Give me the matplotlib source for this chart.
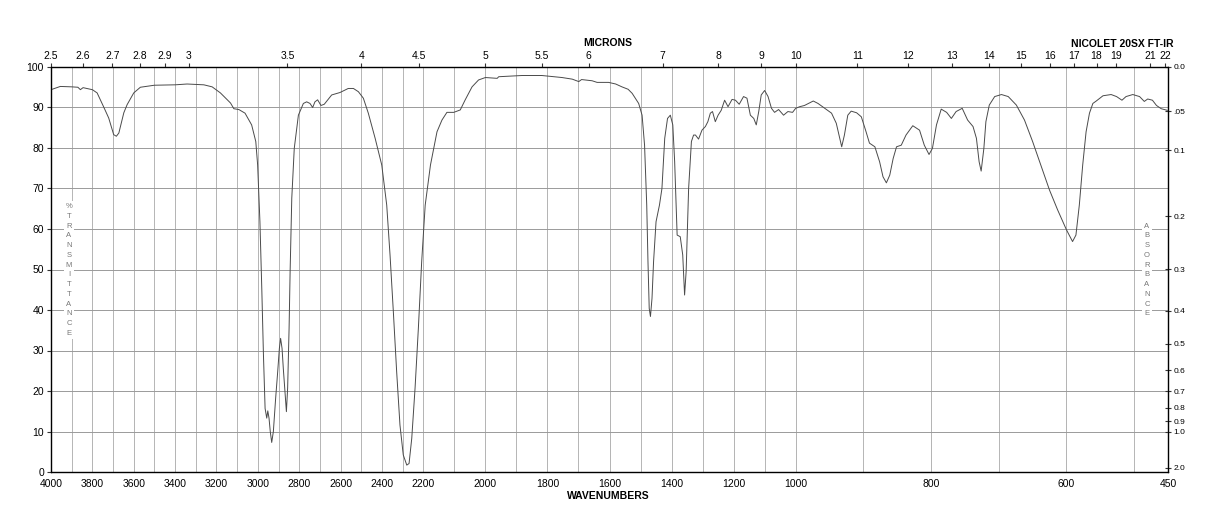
import numpy as np
import matplotlib
matplotlib.use("Agg")
import matplotlib.pyplot as plt

plt.rcParams['font.family'] = ['Liberation Sans', 'DejaVu Sans']

# spectrum (wavenumber cm-1, % transmittance)
wavenumber = [4000, 3955, 3900, 3870, 3858, 3845, 3800, 3777, 3745, 3721, 3697, 3684, 3672,
              3648, 3632, 3600, 3568, 3500, 3400, 3342, 3261, 3221, 3181, 3132, 3116, 3092,
              3062, 3030, 3010, 3001, 2990, 2981, 2973, 2965, 2957, 2952, 2946, 2940, 2933,
              2925, 2914, 2904, 2896, 2890, 2883, 2877, 2869, 2862, 2856, 2849, 2844, 2836,
              2824, 2804, 2780, 2764, 2748, 2735, 2724, 2711, 2695, 2679, 2643, 2603, 2563,
              2538, 2514, 2490, 2466, 2433, 2401, 2377, 2361, 2345, 2329, 2313, 2297, 2280,
              2269, 2256, 2240, 2224, 2208, 2194, 2177, 2156, 2140, 2124, 2102, 2081, 2065,
              2043, 2022, 2000, 1962, 1957, 1882, 1818, 1753, 1720, 1699, 1690, 1656, 1640,
              1603, 1580, 1560, 1540, 1527, 1506, 1495, 1487, 1480, 1476, 1472, 1468, 1463,
              1458, 1450, 1439, 1431, 1422, 1413, 1404, 1396, 1390, 1382, 1372, 1364, 1358,
              1353, 1345, 1336, 1329, 1323, 1313, 1302, 1291, 1283, 1275, 1268, 1259, 1250,
              1240, 1229, 1218, 1205, 1194, 1182, 1168, 1157, 1146, 1135, 1127, 1119, 1111,
              1100, 1089, 1078, 1068, 1055, 1039, 1025, 1010, 1000, 994, 987, 974, 967, 957,
              947, 940, 935, 932, 928, 923, 918, 910, 903, 896, 891, 883, 876, 871, 866, 861,
              856, 851, 844, 837, 827, 817, 810, 803, 798, 792, 785, 777, 770, 763, 754, 746,
              738, 733, 729, 726, 722, 719, 714, 706, 696, 686, 674, 662, 650, 637, 625, 613,
              600, 591, 586, 581, 576, 571, 566, 561, 556, 546, 534, 526, 518, 512, 502, 492,
              485, 480, 473, 467, 460, 451]
transmittance = [94.4, 95.2, 95.1, 95.0, 94.4, 94.9, 94.4, 93.6, 90.1, 87.4, 83.3, 82.9, 83.7,
                 88.7, 90.7, 93.6, 95.0, 95.5, 95.6, 95.8, 95.6, 95.1, 93.6, 91.1, 89.7, 89.5,
                 88.6, 85.7, 81.6, 75.8, 61.8, 45.3, 29.0, 15.7, 13.3, 15.1, 13.3, 10.0, 7.3,
                 10.0, 18.2, 24.8, 30.5, 33.0, 30.5, 25.6, 19.8, 14.9, 20.7, 35.5, 49.5, 67.6,
                 79.9, 88.1, 91.0, 91.4, 91.0, 90.0, 91.4, 91.9, 90.5, 90.8, 93.1, 93.7, 94.7,
                 94.7, 93.9, 92.3, 88.6, 82.4, 75.8, 65.9, 53.6, 39.6, 24.8, 11.6, 4.2, 1.7,
                 2.1, 8.3, 20.7, 35.5, 51.9, 65.9, 75.8, 84.0, 86.9, 88.8, 88.8, 89.4, 91.9,
                 95.1, 96.8, 97.4, 97.2, 97.6, 97.9, 97.9, 97.4, 97.0, 96.4, 96.9, 96.6, 96.2,
                 96.2, 95.8, 95.1, 94.5, 93.5, 91.0, 88.1, 80.7, 65.9, 51.9, 40.4, 38.4, 42.9,
                 51.9, 61.8, 65.9, 70.0, 82.4, 87.3, 88.1, 85.7, 76.6, 58.5, 58.1, 53.6, 43.7,
                 49.5, 70.0, 81.6, 83.2, 83.2, 82.2, 84.4, 85.3, 86.5, 88.6, 89.0, 86.5, 88.1,
                 89.3, 91.8, 90.2, 92.0, 91.8, 90.8, 92.7, 92.3, 88.1, 87.3, 85.7, 89.0, 93.1,
                 94.2, 92.7, 89.8, 88.8, 89.5, 88.1, 89.0, 88.8, 89.8, 90.2, 90.5, 91.6, 91.0, 89.8,
                 88.6, 86.1, 82.4, 80.3, 83.2, 88.1, 89.1, 88.7, 87.7, 84.0, 81.2, 80.3, 76.6,
                 72.9, 71.4, 73.3, 77.4, 80.3, 80.7, 83.2, 85.5, 84.4, 80.7, 78.4, 79.9, 85.7,
                 89.6, 88.8, 87.3, 89.0, 89.8, 86.9, 85.3, 82.4, 76.6, 74.3, 79.9, 86.5, 90.6,
                 92.7, 93.2, 92.7, 90.6, 86.9, 81.6, 75.4, 69.6, 64.7, 59.8, 56.9, 58.5, 65.9,
                 75.8, 84.0, 88.6, 91.0, 91.6, 92.9, 93.2, 92.7, 91.8, 92.7, 93.2, 92.7, 91.5,
                 92.1, 91.8, 90.5, 89.7, 89.3]

wn_ticks = [4000, 3800, 3600, 3400, 3200, 3000, 2800, 2600, 2400, 2200, 2000,
            1800, 1600, 1400, 1200, 1000, 800, 600, 450]
micron_ticks = [2.5, 2.6, 2.7, 2.8, 2.9, 3, 3.5, 4, 4.5, 5, 5.5, 6, 7, 8, 9, 10,
                11, 12, 13, 14, 15, 16, 17, 18, 19, 21, 22]
abs_ticks = [0.0, 0.05, 0.1, 0.2, 0.3, 0.4, 0.5, 0.6, 0.7, 0.8, 0.9, 1.0, 2.0]
abs_labels = ['0.0', '.05', '0.1', '0.2', '0.3', '0.4', '0.5', '0.6', '0.7', '0.8',
              '0.9', '1.0', '2.0']

# three equal-width segments: 4000-2200, 2200-1000, 1000-450
seg_w = [-20000, 450, 1000, 2200, 4000, 40000]
seg_u = [-(20450 / 550), 0, 1, 2, 3, 3 + 36000 / 1800]


def fwd(w):
    return np.interp(np.asarray(w, float), seg_w, seg_u)


def inv(u):
    return np.interp(np.asarray(u, float), seg_u, seg_w)


fig = plt.figure(figsize=(12.18, 5.28), dpi=100)
ax = fig.add_axes([51 / 1218, 1 - 472 / 528, 1117 / 1218, 405 / 528])
ax.set_xscale('function', functions=(fwd, inv))
ax.set_xlim(4000, 450)
ax.set_ylim(0, 100)

ax.plot(wavenumber, transmittance, color='#4a4a4a', lw=0.7, zorder=3)

ax.set_xticks(wn_ticks)
ax.set_xticklabels([str(t) for t in wn_ticks])
ax.set_xticks(np.arange(500, 4000, 100), minor=True)
ax.xaxis.remove_overlapping_locs = False
ax.set_yticks(range(0, 101, 10))
ax.tick_params(axis='x', which='both', length=0, pad=5, labelsize=7.5)
ax.tick_params(axis='y', length=3, pad=2, labelsize=7.5, color='#333333')
ax.grid(True, which='both', axis='x', color='#b5b5b5', lw=0.7)
ax.grid(True, which='major', axis='y', color='#9a9a9a', lw=0.7)
ax.set_axisbelow(True)
for s in ax.spines.values():
    s.set_color('#333333')
    s.set_linewidth(0.9)

# micron scale on top
ax_top = ax.twiny()
ax_top.set_xscale('function', functions=(fwd, inv))
ax_top.set_xlim(4000, 450)
ax_top.set_xticks([10000 / m for m in micron_ticks])
ax_top.set_xticklabels([f'{m:g}' for m in micron_ticks])
ax_top.tick_params(axis='x', length=3, pad=1, labelsize=7.5, color='#333333')
ax_top.xaxis.set_minor_locator(matplotlib.ticker.NullLocator())

# absorbance scale on the right
ax_r = ax.twinx()
ax_r.set_ylim(0, 100)
ax_r.set_yticks([100 * 10 ** (-a) for a in abs_ticks])
ax_r.set_yticklabels(abs_labels)
ax_r.tick_params(axis='y', direction='inout', length=4, pad=2, labelsize=6, color='#333333')

fig.text(608 / 1218, 1 - 43 / 528, 'MICRONS', ha='center', va='center',
         fontsize=7.5, fontweight='bold')
fig.text(1122 / 1218, 1 - 44 / 528, 'NICOLET 20SX FT-IR', ha='center', va='center',
         fontsize=7.5, fontweight='bold')
fig.text(608 / 1218, 1 - 496 / 528, 'WAVENUMBERS', ha='center', va='center',
         fontsize=7.5, fontweight='bold')

box = dict(facecolor='white', edgecolor='none', pad=1.5)
fig.text(69 / 1218, 1 - 270 / 528, '\n'.join('%TRANSMITTANCE'), ha='center', va='center',
         fontsize=5.5, color='#777777', linespacing=1.55, bbox=box, zorder=5)
fig.text(1147 / 1218, 1 - 270 / 528, '\n'.join('ABSORBANCE'), ha='center', va='center',
         fontsize=5.5, color='#777777', linespacing=1.55, bbox=box, zorder=5)

fig.savefig('out.png', dpi=100)
